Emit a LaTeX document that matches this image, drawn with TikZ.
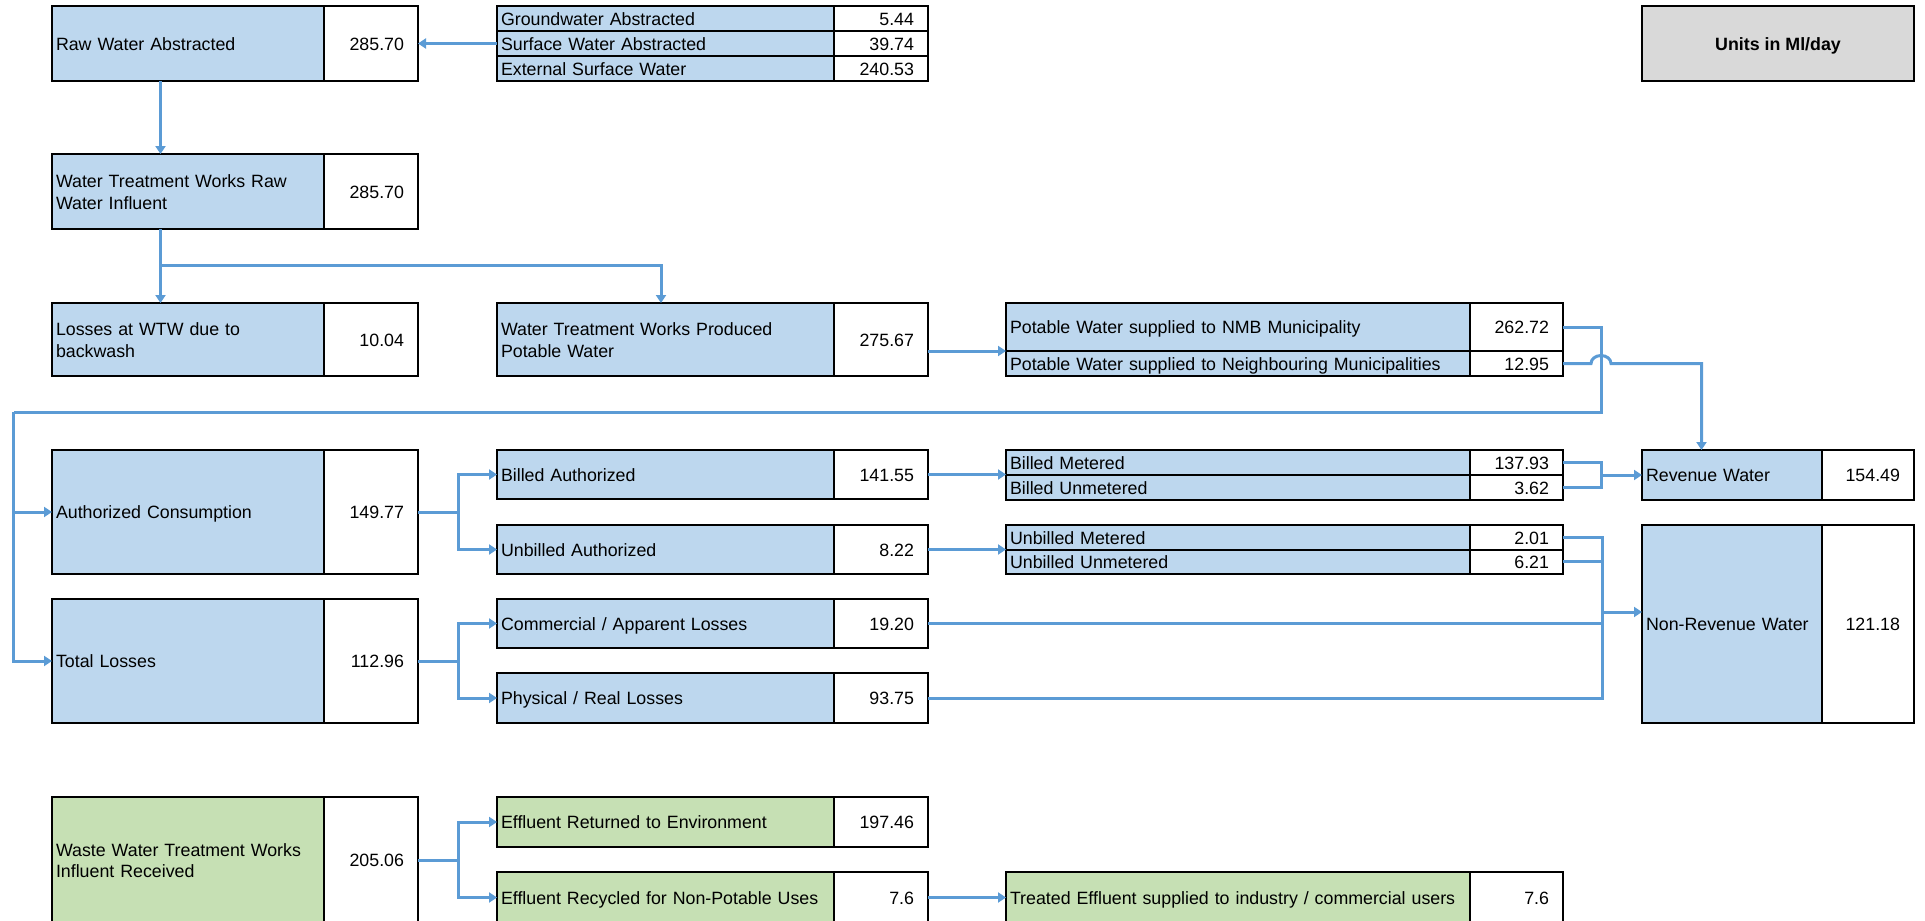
\documentclass[tikz,border=0pt]{standalone}
\usepackage{fontspec}
\setmainfont{Liberation Sans}
\usetikzlibrary{arrows.meta}
\definecolor{cellblue}{HTML}{BDD7EE}
\definecolor{cellgreen}{HTML}{C6E0B4}
\definecolor{cellgrey}{HTML}{D9D9D9}
\definecolor{pipeblue}{HTML}{5B9BD5}
\newcommand\cellstrut{\rule[-3.5pt]{0pt}{20.9pt}}
\tikzset{
  box/.style={draw, line width=2pt, anchor=north west, outer sep=0pt, inner ysep=0pt,
    execute at begin node=\cellstrut, execute at end node=\cellstrut},
  lbl/.style={box, fill=cellblue, inner xsep=4pt, align=left},
  val/.style={box, fill=white, inner xsep=14pt, align=right},
  colA/.style={minimum width=272pt, text width=264pt},
  valA/.style={minimum width=94pt, text width=66pt},
  colB/.style={minimum width=337pt, text width=329pt},
  valB/.style={minimum width=94pt, text width=66pt},
  colC/.style={minimum width=464pt, text width=456pt},
  valC/.style={minimum width=93pt, text width=65pt},
  colD/.style={minimum width=180pt, text width=172pt},
  valD/.style={minimum width=92pt, text width=64pt},
  tall/.style={minimum height=#1},
  pipe/.style={draw=pipeblue, line width=3pt},
  flow/.style={pipe, -{Triangle[length=8pt,width=10pt]}},
}

\begin{document}
\begin{tikzpicture}[x=1pt, y=-1pt, font=\fontsize{17.8}{21.4}\selectfont]
	    \useasboundingbox (0,0) rectangle (1925,921);
	    \clip (0,0) rectangle (1925,921);

	    % raw water and sources
	    \node[lbl,colA,tall=75pt] (rawLbl) at (52,6) {Raw Water Abstracted};
	    \node[val,valA,tall=75pt] (rawVal) at (324,6) {285.70};
	    \node[lbl,colB,tall=25pt] (gwLbl) at (497,6) {Groundwater Abstracted};
	    \node[val,valB,tall=25pt] (gwVal) at (834,6) {5.44};
	    \node[lbl,colB,tall=25pt] (swLbl) at (497,31) {Surface Water Abstracted};
	    \node[val,valB,tall=25pt] (swVal) at (834,31) {39.74};
	    \node[lbl,colB,tall=25pt] (exLbl) at (497,56) {External Surface Water};
	    \node[val,valB,tall=25pt] (exVal) at (834,56) {240.53};
	    \node[box,fill=cellgrey,minimum width=272pt,tall=75pt,font=\fontsize{17.8}{21.4}\selectfont\bfseries] (units) at (1642,6) {Units in Ml/day};

	    % treatment works
	    \node[lbl,colA,tall=75pt] (wtwLbl) at (52,154) {Water Treatment Works Raw\\Water Influent};
	    \node[val,valA,tall=75pt] (wtwVal) at (324,154) {285.70};
	    \node[lbl,colA,tall=73pt] (bwLbl) at (52,303) {Losses at WTW due to\\backwash};
	    \node[val,valA,tall=73pt] (bwVal) at (324,303) {10.04};
	    \node[lbl,colB,tall=73pt] (prodLbl) at (497,303) {Water Treatment Works Produced\\Potable Water};
	    \node[val,valB,tall=73pt] (prodVal) at (834,303) {275.67};
	    \node[lbl,colC,tall=48pt] (nmbLbl) at (1006,303) {Potable Water supplied to NMB Municipality};
	    \node[val,valC,tall=48pt] (nmbVal) at (1470,303) {262.72};
	    \node[lbl,colC,tall=25pt] (nbLbl) at (1006,351) {Potable Water supplied to Neighbouring Municipalities};
	    \node[val,valC,tall=25pt] (nbVal) at (1470,351) {12.95};

	    % consumption
	    \node[lbl,colA,tall=124pt] (authLbl) at (52,450) {Authorized Consumption};
	    \node[val,valA,tall=124pt] (authVal) at (324,450) {149.77};
	    \node[lbl,colB,tall=49pt] (baLbl) at (497,450) {Billed Authorized};
	    \node[val,valB,tall=49pt] (baVal) at (834,450) {141.55};
	    \node[lbl,colB,tall=49pt] (uaLbl) at (497,525) {Unbilled Authorized};
	    \node[val,valB,tall=49pt] (uaVal) at (834,525) {8.22};
	    \node[lbl,colC,tall=25pt] (bmLbl) at (1006,450) {Billed Metered};
	    \node[val,valC,tall=25pt] (bmVal) at (1470,450) {137.93};
	    \node[lbl,colC,tall=25pt] (buLbl) at (1006,475) {Billed Unmetered};
	    \node[val,valC,tall=25pt] (buVal) at (1470,475) {3.62};
	    \node[lbl,colC,tall=24.5pt] (umLbl) at (1006,525) {Unbilled Metered};
	    \node[val,valC,tall=24.5pt] (umVal) at (1470,525) {2.01};
	    \node[lbl,colC,tall=24.5pt] (uuLbl) at (1006,549.5) {Unbilled Unmetered};
	    \node[val,valC,tall=24.5pt] (uuVal) at (1470,549.5) {6.21};
	    \node[lbl,colD,tall=50pt] (revLbl) at (1642,450) {Revenue Water};
	    \node[val,valD,tall=50pt] (revVal) at (1822,450) {154.49};
	    \node[lbl,colD,tall=198pt] (nrwLbl) at (1642,525) {Non-Revenue Water};
	    \node[val,valD,tall=198pt] (nrwVal) at (1822,525) {121.18};

	    % losses
	    \node[lbl,colA,tall=124pt] (totLbl) at (52,599) {Total Losses};
	    \node[val,valA,tall=124pt] (totVal) at (324,599) {112.96};
	    \node[lbl,colB,tall=49pt] (comLbl) at (497,599) {Commercial / Apparent Losses};
	    \node[val,valB,tall=49pt] (comVal) at (834,599) {19.20};
	    \node[lbl,colB,tall=50pt] (phyLbl) at (497,673) {Physical / Real Losses};
	    \node[val,valB,tall=50pt] (phyVal) at (834,673) {93.75};

	    % waste water
	    \node[lbl,colA,tall=126pt,fill=cellgreen] (wwLbl) at (52,797) {Waste Water Treatment Works\\Influent Received};
	    \node[val,valA,tall=126pt] (wwVal) at (324,797) {205.06};
	    \node[lbl,colB,tall=50pt,fill=cellgreen] (retLbl) at (497,797) {Effluent Returned to Environment};
	    \node[val,valB,tall=50pt] (retVal) at (834,797) {197.46};
	    \node[lbl,colB,tall=51pt,fill=cellgreen] (recLbl) at (497,872) {Effluent Recycled for Non-Potable Uses};
	    \node[val,valB,tall=51pt] (recVal) at (834,872) {7.6};
	    \node[lbl,colC,tall=51pt,fill=cellgreen] (trLbl) at (1006,872) {Treated Effluent supplied to industry / commercial users};
	    \node[val,valC,tall=51pt] (trVal) at (1470,872) {7.6};

	    % bends of the connectors
	    \coordinate (trunk) at (160.5,265);
	    \coordinate (prodDrop) at (661,265);
	    \coordinate (split) at (458,0);
	    \coordinate (busR) at (1601,412);
	    \coordinate (busL) at (13.5,412);
	    \coordinate (hop) at (1591,0);
	    \coordinate (revDrop) at (1701.5,0);
	    \coordinate (jRev) at (1601,475);
	    \coordinate (jNrw) at (1602,612);
	    \coordinate (nrwBus) at (1602,0);

	    \draw[flow] (swLbl.west) -- (rawVal.east);
	    \draw[flow] (rawLbl.south -| trunk) -- (wtwLbl.north -| trunk);
	    \draw[pipe] (wtwLbl.south -| trunk) -- (trunk);
	    \draw[flow] (trunk) -- (bwLbl.north -| trunk);
	    \draw[flow] (trunk) -- (prodDrop) -- (prodLbl.north -| prodDrop);
	    \draw[flow] (prodVal.east |- nmbLbl.south) -- (nmbLbl.south west);
	    \draw[pipe] (nmbVal.east) -| (busR) -- (busL);
	    \draw[flow] (busL) |- (authLbl.west);
	    \draw[flow] (busL) |- (totLbl.west);
	    \draw[flow] (nbVal.east) -- (nbVal.east -| hop)
	        arc[start angle=180, end angle=0, x radius=10pt, y radius=8pt]
	        -| (revLbl.north -| revDrop);

	    \draw[pipe] (authVal.east) -- (authVal.east -| split);
	    \draw[flow] (authVal.east -| split) |- (baLbl.west);
	    \draw[flow] (authVal.east -| split) |- (uaLbl.west);
	    \draw[pipe] (totVal.east) -- (totVal.east -| split);
	    \draw[flow] (totVal.east -| split) |- (comLbl.west);
	    \draw[flow] (totVal.east -| split) |- (phyLbl.west);
	    \draw[pipe] (wwVal.east) -- (wwVal.east -| split);
	    \draw[flow] (wwVal.east -| split) |- (retLbl.west);
	    \draw[flow] (wwVal.east -| split) |- (recLbl.west);

	    \draw[flow] (baVal.east) -- (baVal.east -| bmLbl.west);
	    \draw[flow] (uaVal.east) -- (uaVal.east -| umLbl.west);
	    \draw[pipe] (bmVal.east) -| (jRev) |- (buVal.east);
	    \draw[flow] (jRev) -- (revLbl.west |- jRev);
	    \draw[pipe] (umVal.east) -| (nrwBus |- phyVal.east) -- (phyVal.east);
	    \draw[pipe] (uuVal.east) -- (uuVal.east -| nrwBus);
	    \draw[pipe] (comVal.east) -- (comVal.east -| nrwBus);
	    \draw[flow] (jNrw) -- (jNrw -| nrwLbl.west);
	    \draw[flow] (recVal.east) -- (recVal.east -| trLbl.west);
	\end{tikzpicture}
\end{document}
